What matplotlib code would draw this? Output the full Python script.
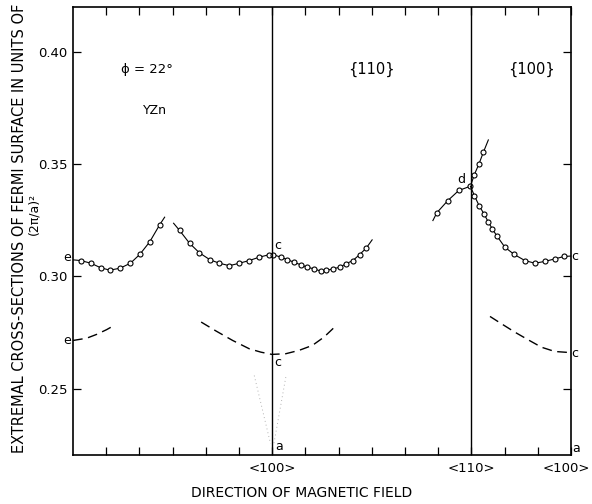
import numpy as np
import matplotlib
matplotlib.use("Agg")
import matplotlib.pyplot as plt

# circle series (x in tick units, 6 = <100>, 12 = <110>)
xa = [0.23, 0.54, 0.83, 1.11, 1.42, 1.73, 2.01, 2.31, 2.61]
ya = [0.3071, 0.3059, 0.3039, 0.3028, 0.3037, 0.3059, 0.3098, 0.3154, 0.3230]
a_ends = [(0.0, 0.3074), (2.76, 0.3264)]

xb = [3.21, 3.51, 3.81, 4.13, 4.41, 4.71, 5.01, 5.31, 5.61, 5.91, 6.03, 6.26,
      6.46, 6.66, 6.86, 7.06, 7.26, 7.46, 7.63, 7.83, 8.03, 8.23, 8.43, 8.63, 8.83]
yb = [0.3205, 0.3148, 0.3105, 0.3074, 0.3059, 0.3048, 0.3059, 0.3071, 0.3086,
      0.3097, 0.3097, 0.3086, 0.3075, 0.3063, 0.3052, 0.3041, 0.3034, 0.3024,
      0.3027, 0.3034, 0.3041, 0.3057, 0.3071, 0.3097, 0.3126]
b_ends = [(3.03, 0.3237), (9.01, 0.3163)]

# branch d: rising left part + steep upper part
xd = [10.96, 11.29, 11.62, 11.97, 12.09, 12.23, 12.36]
yd = [0.3284, 0.3338, 0.3383, 0.3402, 0.3454, 0.3502, 0.3553]
d_ends = [(10.84, 0.3249), (12.51, 0.3608)]

# branch c on the right
xc = [12.09, 12.23, 12.39, 12.51, 12.63, 12.76, 13.01, 13.29, 13.61, 13.91,
      14.21, 14.53, 14.79]
yc = [0.3360, 0.3316, 0.3276, 0.3242, 0.3212, 0.3182, 0.3130, 0.3098, 0.3071,
      0.3059, 0.3067, 0.3079, 0.3089]
c_ends = [(11.97, 0.3402), (15.0, 0.3091)]

# dashed curves
xe1 = [0.0, 0.41, 0.71, 1.01, 1.19]
ye1 = [0.2715, 0.2725, 0.2742, 0.2763, 0.2778]
xe2 = [3.86, 4.31, 4.81, 5.31, 5.66, 5.99, 6.41, 6.81, 7.21, 7.56, 7.91]
ye2 = [0.2797, 0.2757, 0.2715, 0.2678, 0.2663, 0.2653, 0.2656, 0.2671, 0.2693, 0.2730, 0.2779]
xe3 = [12.56, 12.91, 13.31, 13.71, 14.11, 14.51, 14.89, 15.0]
ye3 = [0.2822, 0.2789, 0.2752, 0.2718, 0.2685, 0.2666, 0.2662, 0.2656]

# faint dotted V near <100>
xv1 = [5.46, 5.95]
yv1 = [0.2559, 0.2255]
xv2 = [6.41, 6.05]
yv2 = [0.2552, 0.2255]

fig = plt.figure(figsize=(5.92, 5.04), dpi=100)
ax = fig.add_axes([73 / 592, 1 - 455 / 504, 498 / 592, 448 / 504])

def seg(xs, ys, ends):
    lx = [ends[0][0]] + xs + [ends[1][0]]
    ly = [ends[0][1]] + ys + [ends[1][1]]
    ax.plot(lx, ly, color="black", lw=0.8)
    ax.plot(xs, ys, "o", ms=3.6, mfc="white", mec="black", mew=0.8)

seg(xa, ya, a_ends)
seg(xb, yb, b_ends)
seg(xd, yd, d_ends)
seg(xc, yc, c_ends)

for xs, ys in [(xe1, ye1), (xe2, ye2), (xe3, ye3)]:
    ax.plot(xs, ys, color="black", lw=1.0, dashes=(7, 4))

for xs, ys in [(xv1, yv1), (xv2, yv2)]:
    ax.plot(xs, ys, color="0.7", lw=0.7, ls=(0, (1, 3)))

ax.axvline(6, color="black", lw=1.0)
ax.axvline(12, color="black", lw=1.0)

ax.set_xlim(0, 15)
ax.set_ylim(0.2205, 0.420)
ax.set_yticks([0.25, 0.30, 0.35, 0.40])
ax.set_yticklabels(["0.25", "0.30", "0.35", "0.40"], fontsize=9.5)
ax.set_xticks([1, 2, 3, 4, 5, 6, 7, 8, 9, 10, 11, 12, 13, 14, 15])
ax.set_xticklabels(["", "", "", "", "", "<100>", "", "", "", "", "", "<110>", "", "", ""],
                   fontsize=9.5)
ax.tick_params(direction="in", length=6, width=0.9, top=True, right=True, pad=5)
ax.tick_params(axis="y", pad=4)
for s in ax.spines.values():
    s.set_linewidth(1.2)

# last tick label sits against the right edge of the figure
fig.text(590 / 592, 1 - 468 / 504, "<100>", ha="right", va="center", fontsize=9.5)

lab = dict(fontsize=9, ha="center", va="center", clip_on=False)
ax.text(-0.18, 0.3085, "e", **lab)
ax.text(-0.18, 0.2715, "e", **lab)
ax.text(6.17, 0.3138, "c", **lab)
ax.text(6.17, 0.2617, "c", **lab)
ax.text(6.21, 0.2243, "a", **lab)
ax.text(15.1, 0.3089, "c", **lab)
ax.text(15.12, 0.2657, "c", **lab)
ax.text(15.15, 0.2235, "a", **lab)
ax.text(11.69, 0.3430, "d", **lab)

ax.text(2.22, 0.392, "ϕ = 22°", fontsize=9.5, ha="center", va="center")
ax.text(2.46, 0.3739, "YZn", fontsize=9, ha="center", va="center")
ax.text(8.98, 0.392, "{110}", fontsize=10.5, ha="center", va="center")
ax.text(13.8, 0.392, "{100}", fontsize=10.5, ha="center", va="center")

fig.text(20 / 592, 1 - 228 / 504, "EXTREMAL CROSS-SECTIONS OF FERMI SURFACE IN UNITS OF",
         rotation=90, ha="center", va="center", fontsize=10.5)
fig.text(34 / 592, 1 - 214 / 504, "(2π/a)²", rotation=90, ha="center", va="center", fontsize=9)
fig.text(302 / 592, 1 - 493 / 504, "DIRECTION OF MAGNETIC FIELD", ha="center", va="center",
         fontsize=10)

fig.savefig("out.png", dpi=100)
